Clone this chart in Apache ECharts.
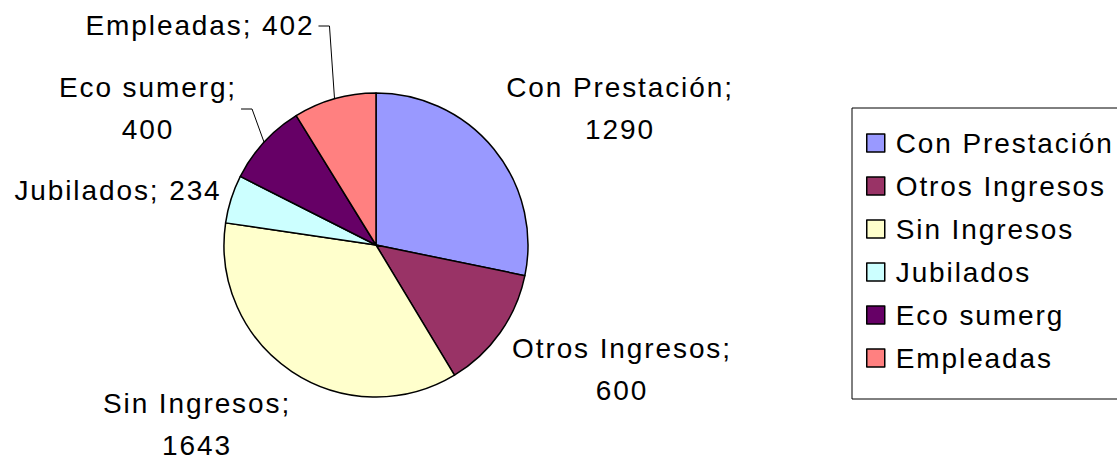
<!DOCTYPE html>
<html lang="en">
<head>
    <meta charset="UTF-8">
    <title>Pie</title>
    <script src="https://cdn.jsdelivr.net/npm/echarts@6/dist/echarts.min.js"></script>
</head>
<style>
    *{
        margin: 0;
        padding: 0;
    }
    html,body{
        width: 100%;
        height: 100%;
        overflow: hidden;
        background: #fff;
    }
    .container{
        width: 1117px;
        height: 459px;
    }
    .container text{
        letter-spacing: 1.9px;
    }
</style>
<body>
<div class="container"></div>
<script>
   // data
   let categories = ['Con Prestación', 'Otros Ingresos', 'Sin Ingresos', 'Jubilados', 'Eco sumerg', 'Empleadas'];
   let values = [1290, 600, 1643, 234, 400, 402];

   // excel palette
   let colors = ['#9999FF', '#993366', '#FFFFCC', '#CCFFFF', '#660066', '#FF8080'];
   // labels on one line / with a leader line
   let oneLine = ['Jubilados', 'Empleadas'];
   let withLine = ['Eco sumerg', 'Empleadas'];
   // where excel put the labels (label centre)
   let labelPos = {
       'Con Prestación': [620, 108],
       'Otros Ingresos': [622, 369],
       'Sin Ingresos': [197, 424],
       'Jubilados': [118, 190],
       'Eco sumerg': [148, 108],
       'Empleadas': [200, 25]
   };

   let font = '"Liberation Sans", Arial, Helvetica, sans-serif';
   let spacing = 1.9;
   let center = [376, 245];
   let radius = 152;

   let total = values.reduce((a, b) => a + b, 0);

   function labelText(name, value) {
       return oneLine.includes(name) ? name + '; ' + value : name + ';\n' + value;
   }

   // point on the rim in the middle of slice i (clockwise from 12 o'clock)
   function midPoint(i) {
       let before = values.slice(0, i).reduce((a, b) => a + b, 0);
       let ang = Math.PI / 2 - (before + values[i] / 2) / total * Math.PI * 2;
       return [center[0] + radius * Math.cos(ang), center[1] - radius * Math.sin(ang)];
   }

   let container = document.querySelector('.container');
   let mycharts = echarts.init(container, null, {renderer: 'svg'});

   let seriesData = categories.map((name, i) => ({
       name,
       value: values[i],
       itemStyle: {color: colors[i]},
       labelLine: {show: withLine.includes(name)}
   }));

   let options = {
       animation: false,
       backgroundColor: '#fff',
       legend: {
           orient: 'vertical',
           left: 852,
           top: 108,
           data: categories,
           icon: 'rect',
           itemWidth: 18,
           itemHeight: 18,
           itemGap: 15,
           padding: [21, 40, 27, 14],
           borderColor: '#000',
           borderWidth: 1,
           itemStyle: {borderColor: '#000', borderWidth: 1.5},
           textStyle: {
               fontFamily: font,
               fontSize: 28,
               lineHeight: 28,
               color: '#000',
               padding: [0, 0, 0, 6]
           }
       },
       series: [{
           type: 'pie',
           center: center.slice(),
           radius: radius,
           startAngle: 90,
           clockwise: true,
           data: seriesData,
           itemStyle: {borderColor: '#000', borderWidth: 1.5},
           label: {
               show: true,
               position: 'outside',
               overflow: 'none',
               edgeDistance: 0,
               fontFamily: font,
               fontSize: 28,
               lineHeight: 42,
               color: '#000',
               align: 'center',
               formatter: p => labelText(p.name, p.value)
           },
           labelLine: {
               lineStyle: {color: '#000', width: 1}
           },
           labelLayout: function (params) {
               let i = params.dataIndex;
               let name = categories[i];
               let pos = labelPos[name];
               let res = {x: pos[0], y: pos[1], align: 'center', verticalAlign: 'middle'};
               if (withLine.includes(name)) {
                   // measured width has no letter spacing, add it back
                   let lines = labelText(name, values[i]).split('\n');
                   let chars = Math.max(...lines.map(s => s.length));
                   let half = (params.labelRect.width + chars * spacing) / 2;
                   let end = [pos[0] + half + 4, pos[1] + 1];
                   let elbow = [end[0] + 11, end[1]];
                   res.labelLinePoints = [midPoint(i), elbow, end];
               }
               return res;
           }
       }]
   };

   mycharts.setOption(options);
</script>

</body>
</html>
